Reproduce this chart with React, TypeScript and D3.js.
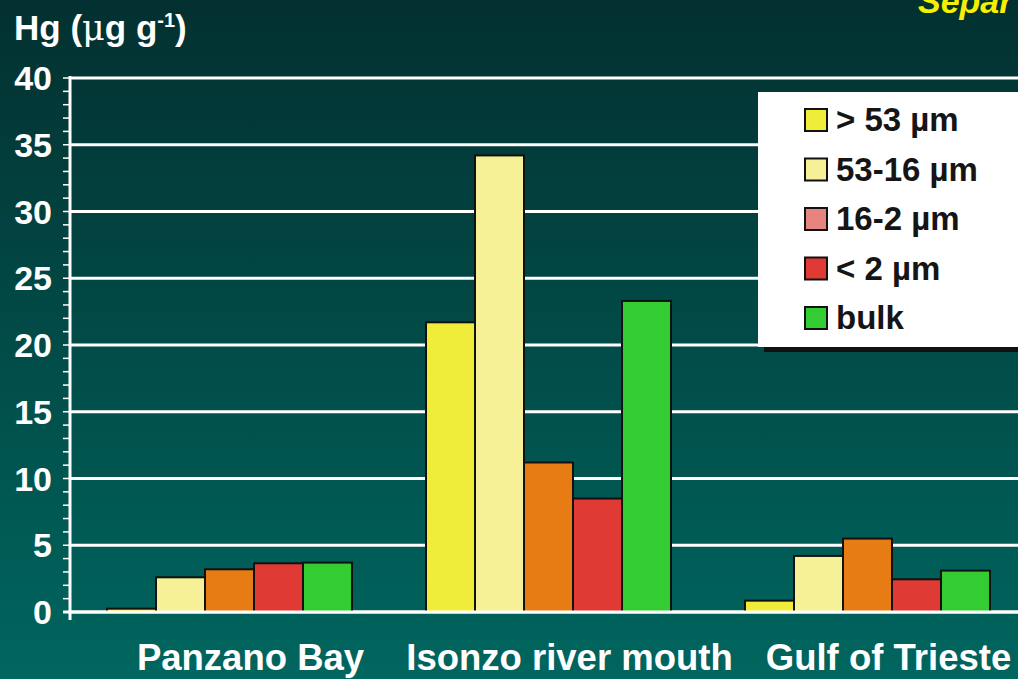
import React from "react";
import * as d3 from "d3";

const categories = ["Panzano Bay", "Isonzo river mouth", "Gulf of Trieste"];
const seriesNames = ["> 53 µm", "53-16 µm", "16-2 µm", "< 2 µm", "bulk"];
const s53: number[] = [0.25, 21.7, 0.85];
const s53_16: number[] = [2.6, 34.2, 4.2];
const s16_2: number[] = [3.2, 11.2, 5.5];
const s2: number[] = [3.65, 8.5, 2.45];
const bulk: number[] = [3.7, 23.3, 3.1];
const seriesValues = [s53, s53_16, s16_2, s2, bulk];
const barColors = ["#f0ec3a", "#f6f196", "#e87c14", "#e03a35", "#34cc33"];
const legendColors = ["#f0ec3a", "#f6f196", "#e88480", "#e03a35", "#34cc33"];
const yTicks = [0, 5, 10, 15, 20, 25, 30, 35, 40];

export default function App() {
  const W = 1018, H = 679;
  const x0 = 70, plotRight = 1027;
  const y = d3.scaleLinear().domain([0, 40]).range([612, 78]);
  const xBand = d3.scaleBand().domain(categories).range([x0, plotRight]).paddingInner(0.232).paddingOuter(0.116);
  const xInner = d3.scaleBand().domain(seriesNames).range([0, xBand.bandwidth()]);
  const minor = d3.range(0, 41, 1);
  const font = "'Liberation Sans', Arial, sans-serif";
  return (
    <svg width={W} height={H} style={{ position: "absolute", left: 0, top: 0, display: "block" }}>
      <defs>
        <linearGradient id="bg" x1="0" y1="0" x2="0" y2="1">
          <stop offset="0" stopColor="#033030" />
          <stop offset="1" stopColor="#00665f" />
        </linearGradient>
      </defs>
      <rect x={0} y={0} width={W} height={H} fill="url(#bg)" />
      <text x={918} y={13} fill="#f5f000" fontFamily={font} fontWeight="bold" fontStyle="italic" fontSize={34}>Separ</text>
      <text x={14} y={40} fill="#fff" fontFamily={font} fontWeight="bold" fontSize={35}>
        Hg (<tspan fontFamily="'DejaVu Serif', serif" fontWeight="normal">μ</tspan>g g<tspan dy={-13} fontSize={20}>-1</tspan><tspan dy={13}>)</tspan>
      </text>
      {yTicks.map((t) => (
        <g key={t}>
          <line x1={x0} x2={W} y1={y(t)} y2={y(t)} stroke="#fff" strokeWidth={3} />
          <text x={52} y={y(t) + 12} textAnchor="end" fill="#fff" fontFamily={font} fontWeight="bold" fontSize={34}>{t}</text>
        </g>
      ))}
      {minor.map((t) => (
        <line key={"m" + t} x1={63} x2={x0} y1={y(t)} y2={y(t)} stroke="#fff" strokeWidth={1.5} />
      ))}
      {categories.map((c, ci) => (
        <g key={c} transform={`translate(${xBand(c)},0)`}>
          {seriesNames.map((s, si) => (
            <rect key={s} x={xInner(s)} y={y(seriesValues[si][ci])} width={xInner.bandwidth()}
              height={y(0) - y(seriesValues[si][ci])} fill={barColors[si]} stroke="#111" strokeWidth={2} />
          ))}
        </g>
      ))}
      <line x1={x0} x2={x0} y1={y(40) - 2} y2={y(0) + 8} stroke="#fff" strokeWidth={3} />
      <line x1={63} x2={W} y1={y(0)} y2={y(0)} stroke="#fff" strokeWidth={3} />
      {categories.map((c) => (
        <text key={"l" + c} x={(xBand(c) as number) + xBand.bandwidth() / 2 + 21} y={670} textAnchor="middle"
          fill="#fff" fontFamily={font} fontWeight="bold" fontSize={36.5}>{c}</text>
      ))}
      <rect x={764} y={97} width={260} height={255} fill="#111" />
      <rect x={758} y={92} width={264} height={255} fill="#fff" />
      {seriesNames.map((s, i) => (
        <g key={"lg" + s} transform={`translate(805,${120 + i * 49.5})`}>
          <rect x={0} y={-11} width={22} height={22} fill={legendColors[i]} stroke="#111" strokeWidth={2} />
          <text x={31} y={11} fill="#151515" fontFamily={font} fontWeight="bold" fontSize={33}>{s}</text>
        </g>
      ))}
    </svg>
  );
}
